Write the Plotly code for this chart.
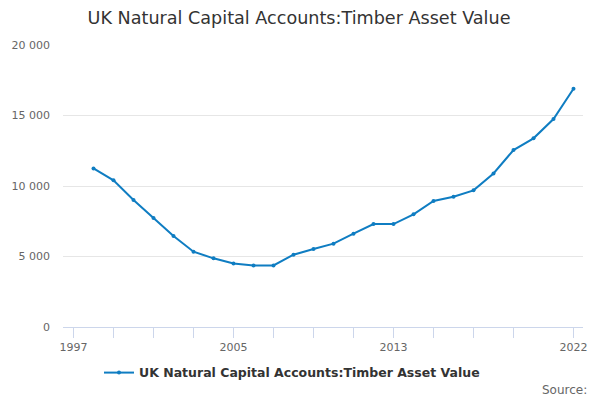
import plotly.graph_objects as go

# ── Data ───────────────────────────────────────────────────────
years = list(range(1998, 2023))
timber_value = [
    11250, 10400, 9010, 7730, 6450, 5340, 4870, 4510, 4370, 4370,
    5130, 5530, 5910, 6620, 7300, 7300, 7990, 8940, 9240, 9690,
    10890, 12550, 13380, 14750, 16900,
]

tick_years = [1997, 1999, 2001, 2003, 2005, 2007, 2009, 2011, 2013,
              2015, 2017, 2019, 2022]
labelled_years = [1997, 2005, 2013, 2022]
y_ticks = [0, 5000, 10000, 15000, 20000]

SERIES_NAME = "UK Natural Capital Accounts:Timber Asset Value"
LINE_COLOR = "#0F7DC2"
FONT = "DejaVu Sans"

fig = go.Figure()
fig.add_trace(go.Scatter(
    x=years,
    y=timber_value,
    name=SERIES_NAME,
    mode="lines+markers",
    line=dict(color=LINE_COLOR, width=2),
    marker=dict(color=LINE_COLOR, size=4),
))

# page body has an 8px margin, so the figure is a little smaller than the window
fig.update_layout(
    width=592,
    height=392,
    paper_bgcolor="white",
    plot_bgcolor="white",
    font=dict(family=FONT, color="#666666"),
    separators=". ",
    margin=dict(l=55, r=17, t=37, b=65),
    title=dict(
        text=SERIES_NAME,
        x=0.4916,
        xanchor="center",
        y=0.975,
        yanchor="middle",
        font=dict(family=FONT, size=17.6, color="#333333"),
    ),
    showlegend=True,
    legend=dict(
        orientation="h",
        x=0.4404,
        xanchor="center",
        y=-0.163,
        yanchor="middle",
        font=dict(family=FONT, size=12.5, color="#333333", weight="bold"),
    ),
    annotations=[dict(
        text="Source:",
        xref="paper",
        yref="paper",
        x=1.0115,
        y=-0.223,
        xanchor="right",
        yanchor="middle",
        showarrow=False,
        font=dict(family=FONT, size=12, color="#666666"),
    )],
)

fig.update_xaxes(
    range=[1996.475, 2022.475],
    tickvals=tick_years,
    ticktext=[str(y) if y in labelled_years else "" for y in tick_years],
    ticks="outside",
    ticklen=10,
    tickcolor="#ccd6eb",
    showline=True,
    linecolor="#ccd6eb",
    showgrid=False,
    zeroline=False,
    automargin=False,
    tickfont=dict(size=11, color="#666666"),
)

fig.update_yaxes(
    range=[0, 20000],
    tickvals=y_ticks,
    tickformat=",",
    showgrid=True,
    gridcolor="#e6e6e6",
    zeroline=False,
    automargin=False,
    ticklabelstandoff=12,
    tickfont=dict(size=11, color="#666666"),
)

fig.write_html("out.html")
